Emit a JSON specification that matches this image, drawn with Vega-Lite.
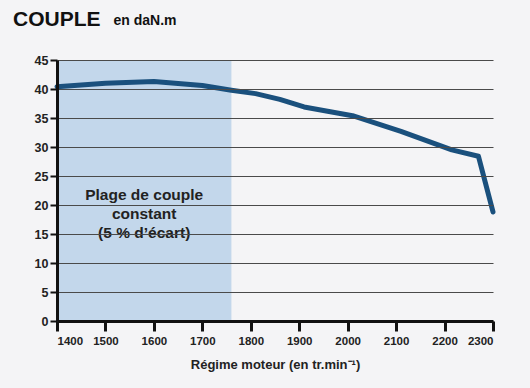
{
  "$schema": "https://vega.github.io/schema/vega-lite/v6.json",
  "width": 436,
  "height": 261,
  "autosize": "none",
  "padding": {"left": 57, "top": 60, "right": 37, "bottom": 67},
  "background": "#f4f4f6",
  "title": {
    "text": "COUPLE",
    "anchor": "start",
    "frame": "group",
    "dx": -44,
    "offset": -17,
    "fontSize": 21,
    "font": "Liberation Sans",
    "fontWeight": "bold",
    "color": "#111111"
  },
  "config": {
    "view": {"stroke": null, "fill": "#f4f4f6"},
    "font": "Liberation Sans"
  },
  "datasets": {
    "zone": [{"regime": 1400, "regime_fin": 1760, "couple": 0, "couple_haut": 45}],
    "couple": [
      {"regime": 1400, "couple": 40.4},
      {"regime": 1500, "couple": 41.0},
      {"regime": 1600, "couple": 41.3},
      {"regime": 1700, "couple": 40.6},
      {"regime": 1760, "couple": 39.8},
      {"regime": 1810, "couple": 39.2},
      {"regime": 1860, "couple": 38.2},
      {"regime": 1910, "couple": 36.9},
      {"regime": 2010, "couple": 35.4},
      {"regime": 2110, "couple": 32.7},
      {"regime": 2215, "couple": 29.5},
      {"regime": 2270, "couple": 28.4},
      {"regime": 2300, "couple": 18.8}
    ],
    "note": [{"regime": 1580, "couple": 23.0, "label": ["Plage de couple", "constant", "(5 % d’écart)"]}]
  },
  "encoding": {
    "x": {"field": "regime", "type": "quantitative", "scale": {"domain": [1400, 2300], "nice": false},
      "axis": {
        "values": [1400, 1500, 1600, 1700, 1800, 1900, 2000, 2100, 2200, 2300],
        "format": "d",
        "title": "Régime moteur (en tr.min⁻¹)",
        "titleFontSize": 13, "titleFontWeight": "bold", "titleColor": "#222222", "titlePadding": 12,
        "labelFontSize": 11.5, "labelFontWeight": "bold", "labelColor": "#222222", "labelPadding": 4,
        "domainColor": "#111111", "domainWidth": 3, "tickColor": "#111111", "tickWidth": 3, "tickSize": 10,
        "grid": false, "zindex": 2
      }},
    "y": {"field": "couple", "type": "quantitative", "scale": {"domain": [0, 45], "nice": false},
      "axis": {
        "values": [0, 5, 10, 15, 20, 25, 30, 35, 40, 45],
        "title": "en daN.m", "titleAngle": 0, "titleAlign": "left", "titleBaseline": "alphabetic",
        "titleX": 56, "titleY": -36, "titleFontSize": 14, "titleFontWeight": "bold", "titleColor": "#111111",
        "labelFontSize": 12.5, "labelFontWeight": "bold", "labelColor": "#222222", "labelPadding": 2,
        "domainColor": "#111111", "domainWidth": 3, "tickColor": "#111111", "tickWidth": 2, "tickSize": 7,
        "grid": true, "gridColor": "#4a4a4a", "gridWidth": 1.2, "zindex": 1
      }}
  },
  "layer": [
    {
      "data": {"name": "zone"},
      "mark": {"type": "rect", "color": "#c3d7eb"},
      "encoding": {
        "x2": {"field": "regime_fin"},
        "y2": {"field": "couple_haut"}
      }
    },
    {
      "data": {"name": "couple"},
      "mark": {"type": "line", "color": "#1a507d", "strokeWidth": 5, "strokeJoin": "round", "strokeCap": "round"},
      "encoding": {}
    },
    {
      "data": {"name": "note"},
      "mark": {"type": "text", "fontSize": 15.5, "fontWeight": "bold", "color": "#222222", "lineHeight": 19, "baseline": "top"},
      "encoding": {
        "text": {"field": "label"}
      }
    }
  ]
}
